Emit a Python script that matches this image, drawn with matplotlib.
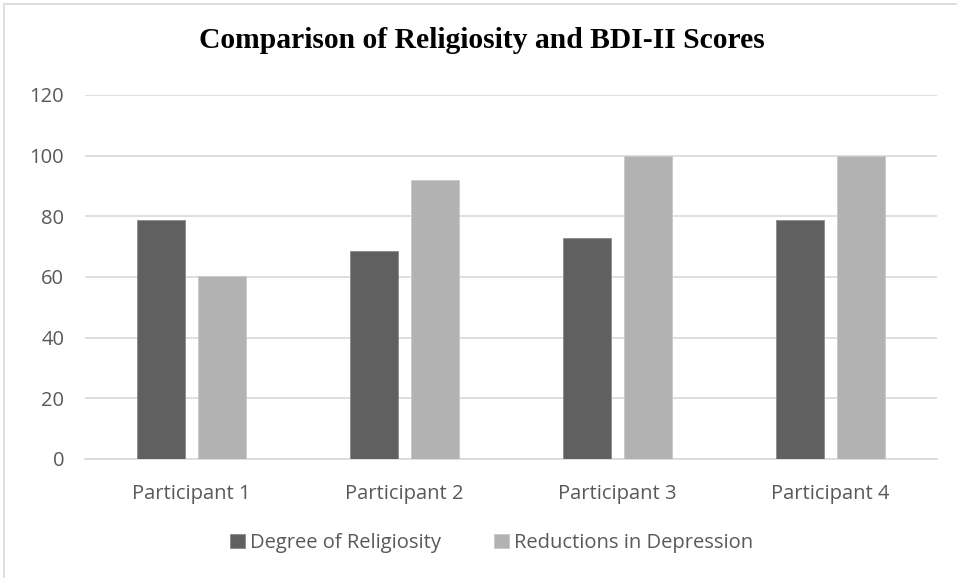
import matplotlib
matplotlib.use("Agg")
import matplotlib.pyplot as plt
import numpy as np
from matplotlib.patches import Rectangle

participants = ["Participant 1", "Participant 2", "Participant 3", "Participant 4"]
religiosity = [78.8, 68.6, 72.9, 78.7]
depression = [60.3, 92.0, 100.0, 100.0]
series_names = ["Degree of Religiosity", "Reductions in Depression"]

dark = "#606060"
light = "#b2b2b2"
text_col = "#595959"
grid_col = "#d9d9d9"

W, H = 957, 578
fig = plt.figure(figsize=(W / 100, H / 100), dpi=100)
fig.patch.set_facecolor("white")

# outer chart border (left and top edges visible)
fig.patches.append(Rectangle((4 / W, -0.05), 1.1, (H - 4) / H + 0.05,
                             transform=fig.transFigure, fill=False,
                             edgecolor="#d9d9d9", linewidth=1.2))

ax = fig.add_axes([85 / W, 1 - 459 / H, (937 - 85) / W, (459 - 95) / H])
x = np.arange(len(participants))
bw = 0.225
ax.bar(x - 0.145, religiosity, width=bw, color=dark, edgecolor="#8a8a8a",
       linewidth=0.6, label=series_names[0], zorder=3)
ax.bar(x + 0.145, depression, width=bw, color=light, edgecolor="#c8c8c8",
       linewidth=0.6, label=series_names[1], zorder=3)

ax.set_xlim(-0.5, 3.5)
ax.set_ylim(0, 120)
ax.set_yticks(range(0, 121, 20))
ax.set_xticks(x)
ax.set_xticklabels(participants)
ax.yaxis.grid(True, color=grid_col, linewidth=1.2, zorder=0)
ax.set_axisbelow(True)
for s in ["top", "right", "left"]:
    ax.spines[s].set_visible(False)
ax.spines["bottom"].set_color(grid_col)
ax.spines["bottom"].set_linewidth(1.2)
ax.tick_params(axis="both", length=0, labelsize=14.5, labelcolor=text_col,
               labelfontfamily="Open Sans")
ax.tick_params(axis="x", pad=18)
ax.tick_params(axis="y", pad=15)

fig.text(0.5 + 3 / W, 1 - 41 / H, "Comparison of Religiosity and BDI-II Scores",
         ha="center", va="center", fontsize=21.3, fontweight="bold",
         family="Liberation Serif", color="black")

leg = fig.legend(loc="center", bbox_to_anchor=(0.5 + 13 / W, 1 - 543 / H), ncol=2,
                 frameon=False, handlelength=0.75, handleheight=0.75,
                 handletextpad=0.25, columnspacing=2.6,
                 prop={"family": "Open Sans", "size": 14.5})
for t in leg.get_texts():
    t.set_color(text_col)

fig.savefig("out.png", dpi=100)
